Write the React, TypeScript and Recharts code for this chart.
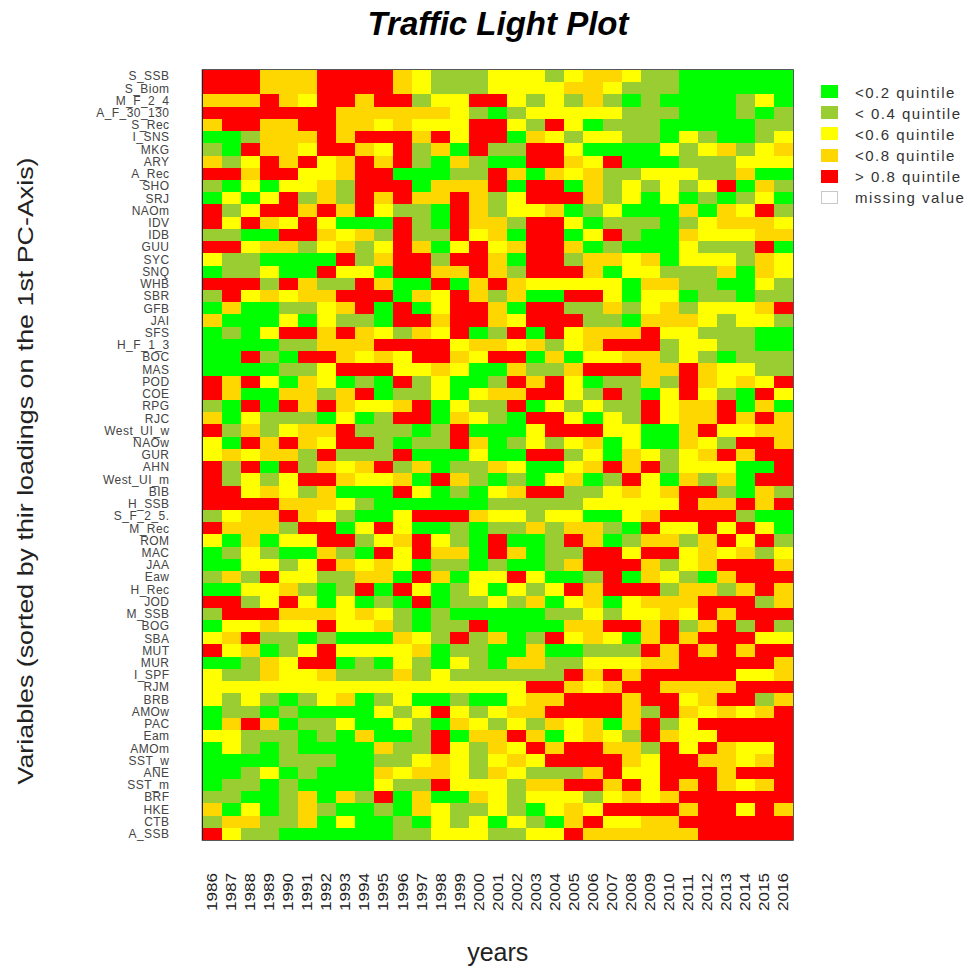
import { ReferenceArea, Scatter, ScatterChart, XAxis, YAxis } from "recharts";

const years = [
  1986, 1987, 1988, 1989, 1990, 1991, 1992, 1993, 1994, 1995, 1996, 1997, 1998, 1999, 2000, 2001,
  2002, 2003, 2004, 2005, 2006, 2007, 2008, 2009, 2010, 2011, 2012, 2013, 2014, 2015, 2016,
];

const variables = [
  "S_SSB", "S_Biom", "M_F_2_4", "A_F_30_130", "S_Rec", "I_SNS", "MKG", "ARY", "A_Rec", "SHO", "SRJ",
  "NAOm", "IDV", "IDB", "GUU", "SYC", "SNQ", "WHB", "SBR", "GFB", "JAI", "SFS", "H_F_1_3", "BOC",
  "MAS", "POD", "COE", "RPG", "RJC", "West_UI_w", "NAOw", "GUR", "AHN", "West_UI_m", "BIB", "H_SSB",
  "S_F_2_5.", "M_Rec", "ROM", "MAC", "JAA", "Eaw", "H_Rec", "JOD", "M_SSB", "BOG", "SBA", "MUT",
  "MUR", "I_SPF", "RJM", "BRB", "AMOw", "PAC", "Eam", "AMOm", "SST_w", "ANE", "SST_m", "BRF", "HKE",
  "CTB", "A_SSB",
];

// one string per variable, one letter per year: G O Y A R = quintile band
const quintileRows = [
  "RRRAAARRRRAYOOOYYYOYAAYOOGGGGGG",
  "RRRAAARRRRAYOOOYYYYAAYOOOGGGGGG",
  "AAARAYRRARROYYRRYOYOAOGOGGGGOYG",
  "RRRRRRRAAAAAAYOGOYYYYYOOOGGGOGO",
  "ARRAARRAAYAYYYRRYORYGOOOGGGGGOO",
  "GGOAAARARRRARYRRGAYOYYOOGYOGGOY",
  "OGRAAYRRAYROAGROORRYGGGGYOYAOYA",
  "AOYRARYARAROGAOGGRRAYRGGGOOOYYY",
  "RRARRYYARRGGGOORAGAYAOOYYYOOAGG",
  "OGYGYYAORRRGAAARGRRGAOYOYOYRGAO",
  "GYGYROAORARAARAOYRRRAOYGYGOGOYG",
  "ROYRRARARYOOGRAOYYAGOYGGGAGAYRO",
  "RYRAYRYGGGROGRAAORRYGOOOGOYAAAY",
  "OOGGRRAYAOROORYAGRRGYROGGAYYYAA",
  "RRYAAOYAOYRAGYRYARRAGOGGGYOOORG",
  "YOOGGGGROARRORRAGRROAAYAGYYYOAY",
  "GOOYGGRYYGRRAARAORRRAGYYOOOAGAY",
  "RRRORAOORAGGRGARAYYYYYGAAOOGGYO",
  "ORYAYAARRRGAYRAOAGGRRYGYYGOOGOO",
  "GAGGOOYARGRGYRRAGRROOAOYAOYYYAR",
  "AGGGYGYOOGRRARRAYRRROOGAAAYOYYO",
  "GOGYRRARAYOAYRGORGRYAAARYYOOOGG",
  "GGGGOOAAARRRRYAAYAOYARRROYYOOGG",
  "GGROGRRAYAYRRAYRRGAGYYAAOYOGOOO",
  "GGGGOOYRRRYYAYGGAOOARRRAARAYYOO",
  "RARYGAYGOGROYGGORARYGOOAORAYAYR",
  "RAGGAAOARGOOYGYAARRYOROGYRYOGRY",
  "OGRGRARAYYARGYOORGYOYOORYAARGAG",
  "AGYOOOGYGORRGAYOGRRYGYORYAARARA",
  "ROAOYAAROOOGORGGGYRRRYYGGARYYAA",
  "YGRARAYRROGOORAGOYOYAGYGGAYORRA",
  "YAYAAOROOORGGGYGGRROYGAYOYARARR",
  "RORGROAYAROAGOOAYGGYARAROYYYGGR",
  "ROYOYRRAYYAGRAOGOGYAGORYGAOAGRR",
  "RRYAYOAGGGRYGOGYARROOYAYARROGAO",
  "RRRRAAAYOGGGGGGOOOOOYYYYYRAARAR",
  "OYAARAYOGGYRRRAYYOYYGGYARRRROGG",
  "RAAAORRGYRYGGOGOOAOAAOGRYYRYRYG",
  "YGAGYYRROYARYOGRGGORAGOAAOARYRO",
  "GOYOGGAOGRYRAAGRAGOORRYRRYAYAOY",
  "GGYYOYRAYAYGOOGOGGOARRRAOYARRRA",
  "OAORYYOOAAGRAGYYRYGGORGAYOGARRR",
  "GGYYAOGORGRYGOYGYOYRARRROAAOARA",
  "RROYRYGYGOGRGOOYOAGYAGYAAARRROA",
  "ORRRAAAYAYOGOGGGGGOOYOYYAYRARRR",
  "GYYAYYRYYAOGOORGGGGAARRAROARORO",
  "YAROOGOGGGAYOROAGORYAYGARARRRYY",
  "RYAGOYRYYYYAGOOGGAGGOOORARARARR",
  "GGOAYRRGOGYOGYOGAAOOYYYAARRRRRA",
  "YOOAYYAOOOAOYOOOOOORARARRRRRYYA",
  "YYYYYYYYYYYYYYYYYRRAYARRAAAARRR",
  "YOYOGOYAGOYGGOGGYAARRRARRYARROA",
  "GOOGOGGGGYOYRYOYAARRRRAORAYAYAR",
  "GARAGOOYGGYOGAYOYOAYAGAROYRRRRR",
  "YYOOOGOGAGGORGAARAGYAYORAYYRRRR",
  "GYOGOGGGGAOORYOAYRARRAAORYRAYYR",
  "GGGGOOOGGOOYAYOYAYRRRRAYRRAAYAR",
  "GGOYGOGGGAYAAYOAYOOOARYYRRRARRR",
  "GOOGOGGGGYOORYYYOAARRARYRARAYAR",
  "OOGGOAGAORGAGGAYOYYYOYAYARRRRRR",
  "AGYGOAOGGOGAYOOYOGYAYRRRRARRYRA",
  "OAAOOAGYGGOGYOYGYOGARYYAARRRRRR",
  "RYOOGGGGGGOOYYYOOYYRAAAAAARRRRR",
];

const bandCodes = ["G", "O", "Y", "A", "R"];
const bandColors = ["#00ff00", "#9acd32", "#ffff00", "#ffd700", "#ff0000"];
const legendLabels = [
  "<0.2 quintile",
  "< 0.4 quintile",
  "<0.6 quintile",
  "<0.8 quintile",
  "> 0.8 quintile",
  "missing value",
];

const FONT = '"Liberation Sans", Arial, sans-serif';
const WIDTH = 965;
const HEIGHT = 968;
const LEFT = 202.5;
const RIGHT = 172;
const TOP = 70;
const BOTTOM = 128;

const cellW = (WIDTH - LEFT - RIGHT) / years.length;
const cellH = (HEIGHT - TOP - BOTTOM) / variables.length;

const rowIndex = variables.map((_, i) => i + 1);

// points for one band, from the letter table
const pointsFor = (code: string) => {
  const pts: { year: number; row: number }[] = [];
  quintileRows.forEach((row, r) => {
    years.forEach((year, c) => {
      if (row[c] === code) pts.push({ year, row: r + 1 });
    });
  });
  return pts;
};

const Cell = (props: any) => (
  <rect
    x={props.cx - cellW / 2}
    y={props.cy - cellH / 2}
    width={cellW}
    height={cellH}
    fill={props.fill}
    shapeRendering="crispEdges"
  />
);

const YearTick = ({ x, payload }: any) => (
  <text
    transform={`translate(${x + 5},911) rotate(-90) scale(1.22,1)`}
    fontFamily={FONT}
    fontSize={14}
    fill="#222"
  >
    {payload.value}
  </text>
);

const YTitle = () => (
  <text
    transform="translate(33,471) rotate(-90) scale(1.22,1)"
    textAnchor="middle"
    fontFamily={FONT}
    fontSize={22}
    fill="#222"
  >
    Variables (sorted by thir loadings on the 1st PC-Axis)
  </text>
);

export default function App() {
  return (
    <div style={{ position: "absolute", left: 0, top: 0, width: WIDTH, height: HEIGHT, background: "#fff" }}>
      <div
        style={{
          position: "absolute",
          left: 0,
          top: 5,
          width: 996,
          textAlign: "center",
          fontFamily: FONT,
          fontWeight: "bold",
          fontStyle: "italic",
          fontSize: 33,
          lineHeight: "38px",
          color: "#000",
        }}
      >
        Traffic Light Plot
      </div>

      <ScatterChart
        width={WIDTH}
        height={HEIGHT}
        margin={{ top: TOP, right: RIGHT, bottom: 0, left: 0 }}
      >
        <XAxis
          type="number"
          dataKey="year"
          domain={[1985.5, 2016.5]}
          ticks={years}
          interval={0}
          allowDataOverflow
          height={BOTTOM}
          axisLine={false}
          tickLine={false}
          tick={<YearTick />}
          label={{
            value: "years",
            position: "insideBottom",
            offset: 7,
            fontFamily: FONT,
            fontSize: 25,
            fill: "#222",
          }}
        />
        <YAxis
          type="number"
          dataKey="row"
          domain={[0.5, variables.length + 0.5]}
          ticks={rowIndex}
          interval={0}
          reversed
          allowDataOverflow
          width={LEFT}
          axisLine={false}
          tickLine={false}
          tickSize={0}
          tickMargin={33}
          tickFormatter={(v: number) => variables[v - 1]}
          tick={{ fontFamily: FONT, fontSize: 12, letterSpacing: 0.45, fill: "#444" }}
          label={YTitle}
        />
        {bandCodes.map((code, i) => (
          <Scatter
            key={code}
            name={legendLabels[i]}
            data={pointsFor(code)}
            fill={bandColors[i]}
            shape={Cell}
            isAnimationActive={false}
          />
        ))}
        <ReferenceArea
          x1={1985.5}
          x2={2016.5}
          y1={0.5}
          y2={variables.length + 0.5}
          fill="none"
          stroke="#222"
          strokeWidth={1.5}
        />
      </ScatterChart>

      {legendLabels.map((label, i) => {
        const missing = i === bandColors.length;
        return (
          <div key={label}>
            <div
              style={{
                position: "absolute",
                left: 821,
                top: 85 + i * 21.2,
                width: 17,
                height: 13,
                boxSizing: "border-box",
                background: missing ? "#fff" : bandColors[i],
                border: missing ? "1.5px solid #c8c8c8" : "none",
              }}
            />
            <div
              style={{
                position: "absolute",
                left: 855,
                top: 84 + i * 21,
                fontFamily: FONT,
                fontSize: 15,
                letterSpacing: 1.5,
                lineHeight: "18px",
                color: "#333",
                whiteSpace: "nowrap",
              }}
            >
              {label}
            </div>
          </div>
        );
      })}
    </div>
  );
}
